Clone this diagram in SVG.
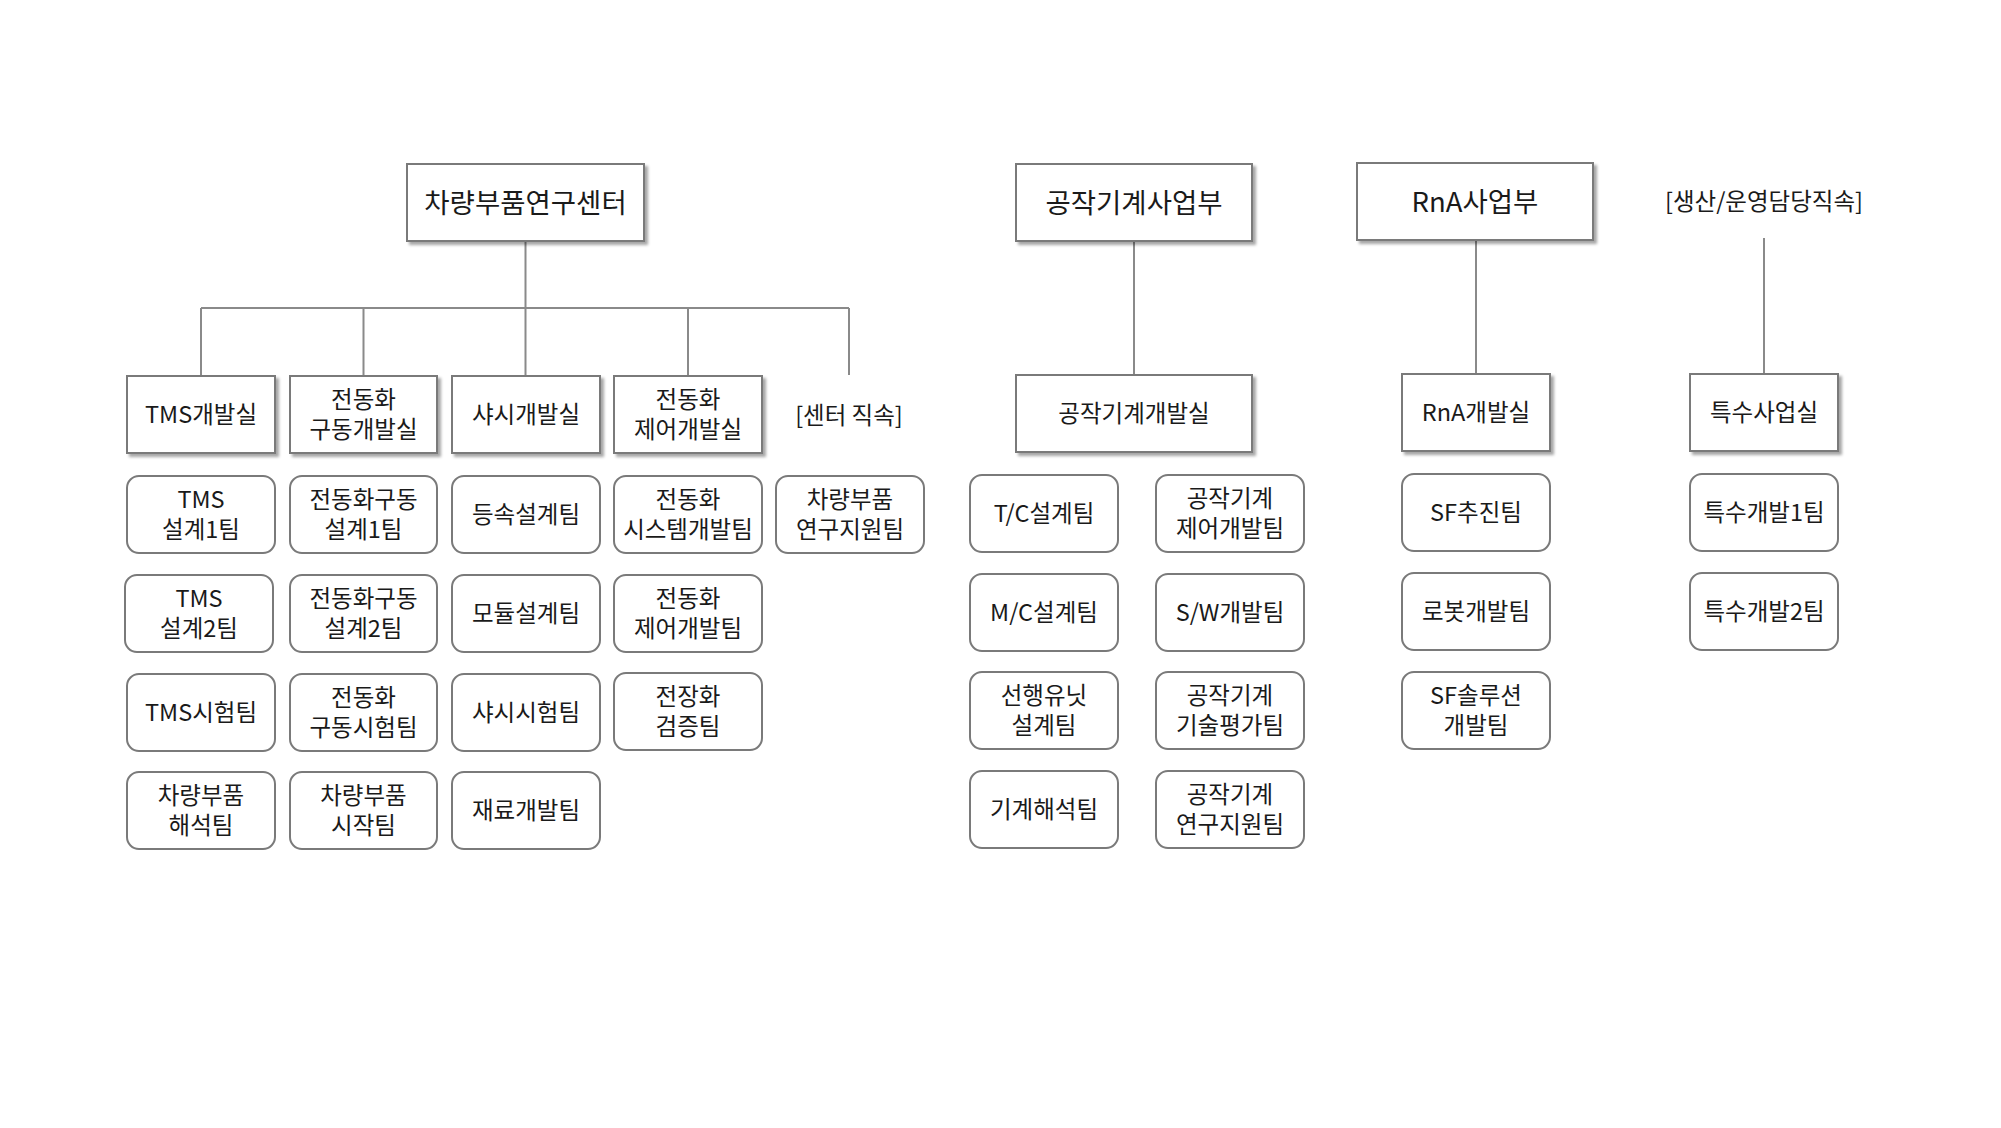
<svg xmlns="http://www.w3.org/2000/svg" width="2001" height="1128" viewBox="0 0 2001 1128">
<style>
text{font-family:"Noto Sans CJK KR","Noto Sans",sans-serif;fill:#1a1a1a;text-anchor:middle;dominant-baseline:central;transform:translateY(-2px)}
.top{font-size:27.5px}
.mid,.team,.lbl{font-size:23.5px}
.box{fill:#fff;stroke:#7a7a7a;stroke-width:2;filter:url(#sh)}
.tm{fill:#fff;stroke:#7a7a7a;stroke-width:2}
.con{fill:none;stroke:#8a8a8a;stroke-width:2}
</style>
<defs>
<filter id="sh" x="-10%" y="-10%" width="125%" height="135%">
<feDropShadow dx="3" dy="3" stdDeviation="1.8" flood-color="#000" flood-opacity="0.35"/>
</filter>
</defs>
<rect width="2001" height="1128" fill="#fff"/>

<g id="connectors">
<path class="con" d="M525.5 241V308M201 308H849M201 308V376M363.5 308V376M525.5 308V376M688 308V376M849 308V375"/>
<path class="con" d="M1134 241V375"/>
<path class="con" d="M1476 240V374"/>
<path class="con" d="M1764 238V374"/>
</g>

<!-- top level -->
<g id="n-center"><rect class="box" x="407" y="164" width="237" height="77"/><text class="top" x="525.5" y="202.5">차량부품연구센터</text></g>
<g id="n-machine"><rect class="box" x="1016" y="164" width="236" height="77"/><text class="top" x="1134" y="202.5">공작기계사업부</text></g>
<g id="n-rna"><rect class="box" x="1357" y="163" width="236" height="77"/><text class="top" x="1475" y="201.5">RnA사업부</text></g>
<g id="n-prod"><text class="lbl" x="1764" y="202">[생산/운영담당직속]</text></g>

<!-- mid level -->
<g id="n-tms"><rect class="box" x="127" y="376" width="148" height="77"/><text class="mid" x="201" y="414.5">TMS개발실</text></g>
<g id="n-edrive"><rect class="box" x="290" y="376" width="147" height="77"/><text class="mid" x="363.5" y="399.5">전동화</text><text class="mid" x="363.5" y="429.5">구동개발실</text></g>
<g id="n-chassis"><rect class="box" x="452" y="376" width="148" height="77"/><text class="mid" x="526" y="414.5">샤시개발실</text></g>
<g id="n-ectrl"><rect class="box" x="614" y="376" width="148" height="77"/><text class="mid" x="688" y="399.5">전동화</text><text class="mid" x="688" y="429.5">제어개발실</text></g>
<g id="n-direct"><text class="lbl" x="849" y="416">[센터 직속]</text></g>
<g id="n-mdev"><rect class="box" x="1016" y="375" width="236" height="77"/><text class="mid" x="1134" y="413.5">공작기계개발실</text></g>
<g id="n-rnadev"><rect class="box" x="1402" y="374" width="148" height="77"/><text class="mid" x="1476" y="412.5">RnA개발실</text></g>
<g id="n-special"><rect class="box" x="1690" y="374" width="148" height="77"/><text class="mid" x="1764" y="412.5">특수사업실</text></g>

<!-- column 1 -->
<g id="t-tms1"><rect class="tm" x="127" y="476" width="148" height="77" rx="12"/><text class="team" x="201" y="499.5">TMS</text><text class="team" x="201" y="529.5">설계1팀</text></g>
<g id="t-tms2"><rect class="tm" x="125" y="575" width="148" height="77" rx="12"/><text class="team" x="199" y="598.5">TMS</text><text class="team" x="199" y="628.5">설계2팀</text></g>
<g id="t-tms3"><rect class="tm" x="127" y="674" width="148" height="77" rx="12"/><text class="team" x="201" y="712.5">TMS시험팀</text></g>
<g id="t-anal"><rect class="tm" x="127" y="772" width="148" height="77" rx="12"/><text class="team" x="201" y="795.5">차량부품</text><text class="team" x="201" y="825.5">해석팀</text></g>

<!-- column 2 -->
<g id="t-ed1"><rect class="tm" x="290" y="476" width="147" height="77" rx="12"/><text class="team" x="363.5" y="499.5">전동화구동</text><text class="team" x="363.5" y="529.5">설계1팀</text></g>
<g id="t-ed2"><rect class="tm" x="290" y="575" width="147" height="77" rx="12"/><text class="team" x="363.5" y="598.5">전동화구동</text><text class="team" x="363.5" y="628.5">설계2팀</text></g>
<g id="t-ed3"><rect class="tm" x="290" y="674" width="147" height="77" rx="12"/><text class="team" x="363.5" y="697.5">전동화</text><text class="team" x="363.5" y="727.5">구동시험팀</text></g>
<g id="t-proto"><rect class="tm" x="290" y="772" width="147" height="77" rx="12"/><text class="team" x="363.5" y="795.5">차량부품</text><text class="team" x="363.5" y="825.5">시작팀</text></g>

<!-- column 3 -->
<g id="t-cv"><rect class="tm" x="452" y="476" width="148" height="77" rx="12"/><text class="team" x="526" y="514.5">등속설계팀</text></g>
<g id="t-mod"><rect class="tm" x="452" y="575" width="148" height="77" rx="12"/><text class="team" x="526" y="613.5">모듈설계팀</text></g>
<g id="t-chtest"><rect class="tm" x="452" y="674" width="148" height="77" rx="12"/><text class="team" x="526" y="712.5">샤시시험팀</text></g>
<g id="t-mat"><rect class="tm" x="452" y="772" width="148" height="77" rx="12"/><text class="team" x="526" y="810.5">재료개발팀</text></g>

<!-- column 4 -->
<g id="t-esys"><rect class="tm" x="614" y="476" width="148" height="77" rx="12"/><text class="team" x="688" y="499.5">전동화</text><text class="team" x="688" y="529.5">시스템개발팀</text></g>
<g id="t-ectl"><rect class="tm" x="614" y="575" width="148" height="77" rx="12"/><text class="team" x="688" y="598.5">전동화</text><text class="team" x="688" y="628.5">제어개발팀</text></g>
<g id="t-elec"><rect class="tm" x="614" y="673" width="148" height="77" rx="12"/><text class="team" x="688" y="696.5">전장화</text><text class="team" x="688" y="726.5">검증팀</text></g>

<!-- column 5 -->
<g id="t-rsup"><rect class="tm" x="776" y="476" width="148" height="77" rx="12"/><text class="team" x="850" y="499.5">차량부품</text><text class="team" x="850" y="529.5">연구지원팀</text></g>

<!-- machine tools -->
<g id="t-tc"><rect class="tm" x="970" y="475" width="148" height="77" rx="12"/><text class="team" x="1044" y="513.5">T/C설계팀</text></g>
<g id="t-mc"><rect class="tm" x="970" y="574" width="148" height="77" rx="12"/><text class="team" x="1044" y="612.5">M/C설계팀</text></g>
<g id="t-adv"><rect class="tm" x="970" y="672" width="148" height="77" rx="12"/><text class="team" x="1044" y="695.5">선행유닛</text><text class="team" x="1044" y="725.5">설계팀</text></g>
<g id="t-mana"><rect class="tm" x="970" y="771" width="148" height="77" rx="12"/><text class="team" x="1044" y="809.5">기계해석팀</text></g>
<g id="t-mctl"><rect class="tm" x="1156" y="475" width="148" height="77" rx="12"/><text class="team" x="1230" y="498.5">공작기계</text><text class="team" x="1230" y="528.5">제어개발팀</text></g>
<g id="t-sw"><rect class="tm" x="1156" y="574" width="148" height="77" rx="12"/><text class="team" x="1230" y="612.5">S/W개발팀</text></g>
<g id="t-meval"><rect class="tm" x="1156" y="672" width="148" height="77" rx="12"/><text class="team" x="1230" y="695.5">공작기계</text><text class="team" x="1230" y="725.5">기술평가팀</text></g>
<g id="t-msup"><rect class="tm" x="1156" y="771" width="148" height="77" rx="12"/><text class="team" x="1230" y="794.5">공작기계</text><text class="team" x="1230" y="824.5">연구지원팀</text></g>

<!-- RnA -->
<g id="t-sf"><rect class="tm" x="1402" y="474" width="148" height="77" rx="12"/><text class="team" x="1476" y="512.5">SF추진팀</text></g>
<g id="t-robot"><rect class="tm" x="1402" y="573" width="148" height="77" rx="12"/><text class="team" x="1476" y="611.5">로봇개발팀</text></g>
<g id="t-sfsol"><rect class="tm" x="1402" y="672" width="148" height="77" rx="12"/><text class="team" x="1476" y="695.5">SF솔루션</text><text class="team" x="1476" y="725.5">개발팀</text></g>

<!-- special -->
<g id="t-sp1"><rect class="tm" x="1690" y="474" width="148" height="77" rx="12"/><text class="team" x="1764" y="512.5">특수개발1팀</text></g>
<g id="t-sp2"><rect class="tm" x="1690" y="573" width="148" height="77" rx="12"/><text class="team" x="1764" y="611.5">특수개발2팀</text></g>
</svg>
